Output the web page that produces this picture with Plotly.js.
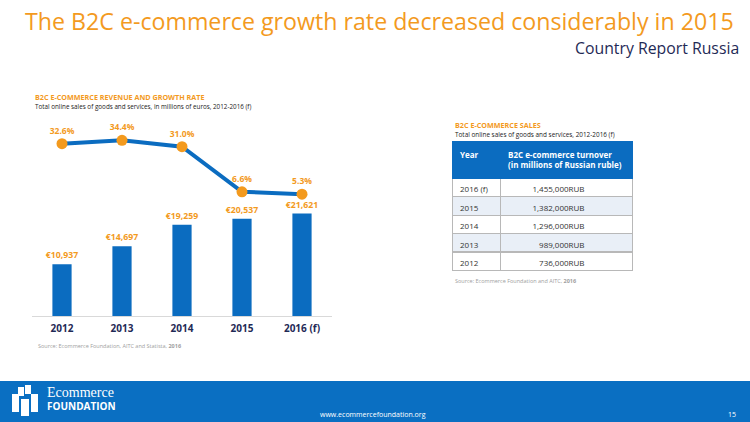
<!DOCTYPE html>
<html><head><meta charset="utf-8">
<script src="https://cdn.plot.ly/plotly-3.0.1.min.js"></script>
<style>body{margin:0;padding:0;background:#fff}#chart{width:750px;height:422px}</style>
</head><body><div id="chart"></div>
<script>
// ---- data ----
const years = ['2012', '2013', '2014', '2015', '2016 (f)'];
const revenueEUR = [10937, 14697, 19259, 20537, 21621];
const growthRate = [32.6, 34.4, 31.0, 6.6, 5.3];
const tableYears = ['2016 (f)', '2015', '2014', '2013', '2012'];
const tableRUB = [1455000, 1382000, 1296000, 989000, 736000];

const ORANGE = '#f39a1e';
const BLUE = '#0b6cc0';
const NAVY = '#1f2a56';
const FONT = 'Open Sans, sans-serif';
const pad = '\u00a0'.repeat(19);

const bars = {
  type: 'bar', x: years, y: revenueEUR, yaxis: 'y', xaxis: 'x',
  marker: {color: BLUE}, width: 0.32,
  texttemplate: '€%{y:,}', textposition: 'outside', cliponaxis: false, constraintext: 'none',
  textfont: {family: FONT, size: 8.7, color: ORANGE, weight: 'bold'},
  hoverinfo: 'skip'
};
const line = {
  type: 'scatter', x: years, y: growthRate, yaxis: 'y2', xaxis: 'x',
  mode: 'lines+markers+text', cliponaxis: false,
  line: {color: BLUE, width: 4},
  marker: {color: ORANGE, size: 11},
  texttemplate: '%{y:.1f}%', textposition: 'top center',
  textfont: {family: FONT, size: 8.5, color: ORANGE, weight: 'bold'},
  hoverinfo: 'skip'
};
const table = {
  type: 'table',
  domain: {x: [452/750, 632/750], y: [0.2, 1 - 141/422]},
  columnwidth: [48, 132],
  header: {
    values: ['<b>Year</b>', '<b>B2C e-commerce turnover<br>(in millions of Russian ruble)</b>'],
    align: 'left', height: 31,
    fill: {color: BLUE},
    line: {color: BLUE, width: 1},
    font: {family: FONT, size: 8, color: '#ffffff'}
  },
  cells: {
    values: [tableYears, tableRUB],
    format: ['', ','], suffix: ['', 'RUB' + pad],
    align: ['left', 'right'], height: 18.4,
    fill: {color: [['#ffffff', '#e9eff7', '#ffffff', '#e9eff7', '#ffffff'],
                   ['#ffffff', '#e9eff7', '#ffffff', '#e9eff7', '#ffffff']]},
    line: {color: '#b8b8b8', width: 1},
    font: {family: FONT, size: 8, color: '#333333'}
  }
};

const ann = (x, y, text, size, color, opts) => Object.assign({
  xref: 'paper', yref: 'paper', x: x / 750, y: 1 - y / 422, text: text,
  showarrow: false, xanchor: 'left', yanchor: 'middle',
  font: {family: FONT, size: size, color: color}
}, opts || {});

const layout = {
  width: 750, height: 422, margin: {l: 0, r: 0, t: 0, b: 0},
  paper_bgcolor: '#ffffff', plot_bgcolor: 'rgba(0,0,0,0)',
  showlegend: false, font: {family: FONT},
  xaxis: {domain: [32/750, 332/750], type: 'category', showline: true, linecolor: '#d9d9d9', linewidth: 1,
          ticks: '', showgrid: false, zeroline: false, fixedrange: true, ticklabelstandoff: 3,
          tickfont: {family: FONT, size: 10, color: NAVY, weight: 'bold'}},
  yaxis: {domain: [1 - 316/422, 1 - 120/422], range: [0, 41350], visible: false, showgrid: false, zeroline: false},
  yaxis2: {overlaying: 'y', range: [-60.5, 45.4], visible: false, showgrid: false, zeroline: false},
  shapes: [
    {type: 'rect', xref: 'paper', yref: 'paper', x0: 0, x1: 1, y0: 0, y1: 1 - 381/422,
     fillcolor: '#0a6fc2', line: {width: 0}, layer: 'below'},
    // logo glyph (decorative)
    {type: 'rect', xref: 'paper', yref: 'paper', x0: 12/750, x1: 19/750, y0: 1-412/422, y1: 1-394/422, fillcolor: '#ffffff', line: {width: 0}},
    {type: 'rect', xref: 'paper', yref: 'paper', x0: 21/750, x1: 29/750, y0: 1-416/422, y1: 1-399/422, fillcolor: '#ffffff', line: {width: 0}},
    {type: 'rect', xref: 'paper', yref: 'paper', x0: 31/750, x1: 38/750, y0: 1-412/422, y1: 1-394/422, fillcolor: '#ffffff', line: {width: 0}},
    {type: 'rect', xref: 'paper', yref: 'paper', x0: 18/750, x1: 24/750, y0: 1-396/422, y1: 1-387/422, fillcolor: '#ffffff', line: {width: 0}},
    {type: 'rect', xref: 'paper', yref: 'paper', x0: 25/750, x1: 31/750, y0: 1-394/422, y1: 1-385/422, fillcolor: '#ffffff', line: {width: 0}}
  ],
  annotations: [
    ann(23, 21, 'The B2C e-commerce growth rate decreased considerably in 2015', 23.2, ORANGE),
    ann(741, 48, 'Country Report Russia', 15.8, NAVY, {xanchor: 'right'}),
    ann(33, 97, '<b>B2C E-COMMERCE REVENUE AND GROWTH RATE</b>', 7.2, ORANGE),
    ann(33, 106, 'Total online sales of goods and services, in millions of euros, 2012-2016 (f)', 6.3, '#222222'),
    ann(36, 346, 'Source: Ecommerce Foundation, AITC and Statista, <b>2016</b>', 5.5, '#a0a0a0'),
    ann(453, 125, '<b>B2C E-COMMERCE SALES</b>', 7.2, ORANGE),
    ann(453, 134, 'Total online sales of goods and services, 2012-2016 (f)', 6.4, '#222222'),
    ann(453, 281, 'Source: Ecommerce Foundation and AITC, <b>2016</b>', 5.5, '#a0a0a0'),
    ann(46, 399, '<span style="font-family:Liberation Serif, serif;font-size:14px">Ecommerce</span><br><b>FOUNDATION</b>', 10, '#ffffff',
        {align: 'left', borderpad: 0}),
    ann(373, 414, 'www.ecommercefoundation.org', 7, '#ffffff', {xanchor: 'center'}),
    ann(738, 414, '15', 7, '#ffffff', {xanchor: 'right'})
  ]
};

Plotly.newPlot('chart', [bars, line, table], layout, {staticPlot: true, displayModeBar: false});
</script></body></html>
